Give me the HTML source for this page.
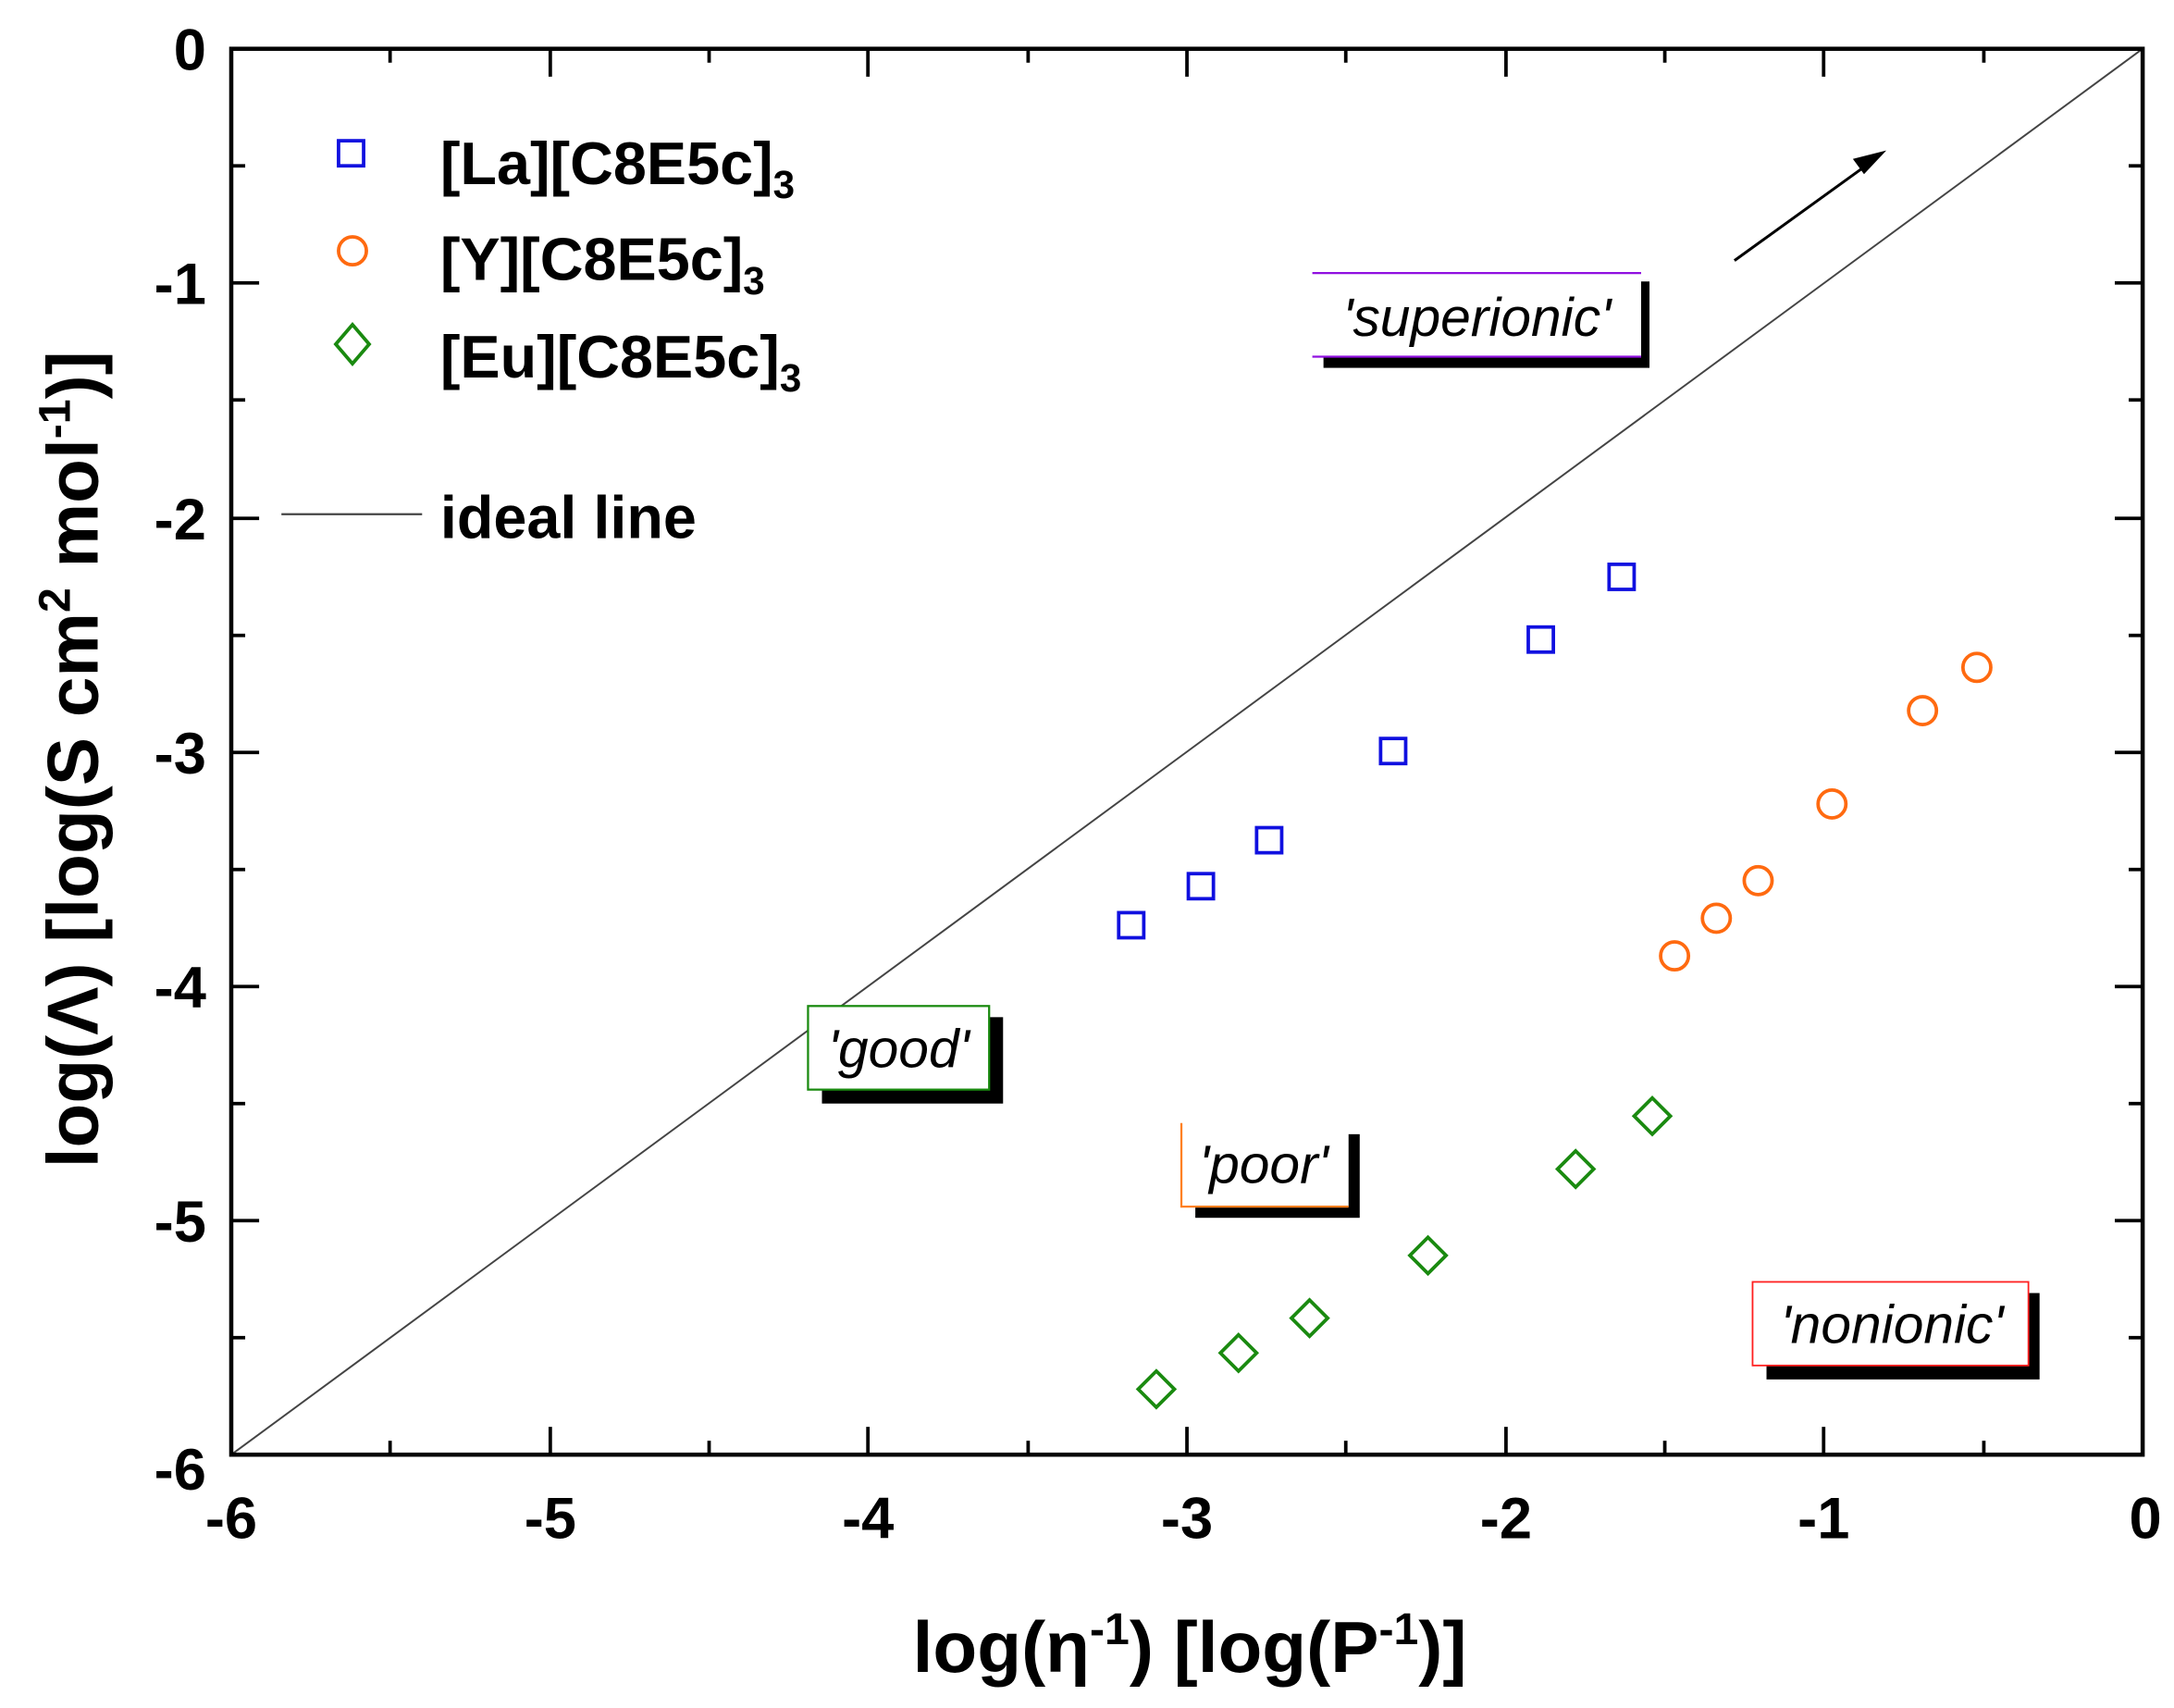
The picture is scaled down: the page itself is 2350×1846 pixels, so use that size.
<!DOCTYPE html>
<html><head><meta charset="utf-8"><style>
html,body{margin:0;padding:0;background:#fff}
svg{display:block}
text{font-family:"Liberation Sans",Arial,sans-serif}
</style></head><body>
<svg width="2350" height="1846" viewBox="0 0 1560.5 1225.8" xmlns="http://www.w3.org/2000/svg">
<rect width="1560.5" height="1225.8" fill="#fff"/>
<line x1="166" y1="1044" x2="1538" y2="35" stroke="#444" stroke-width="1.3"/>
<line x1="1245" y1="187" x2="1342" y2="117" stroke="#000" stroke-width="2"/>
<polygon points="1354,108 1330,114 1338,125" fill="#000"/>
<rect x="166" y="35" width="1372" height="1009" fill="none" stroke="#000" stroke-width="3"/>
<g stroke="#000" stroke-width="2.5">
<path d="M166,1044v-20M395,1044v-20M623,1044v-20M852,1044v-20M1081,1044v-20M1309,1044v-20M1538,1044v-20
M280,1044v-10M509,1044v-10M738,1044v-10M966,1044v-10M1195,1044v-10M1424,1044v-10
M166,35v20M395,35v20M623,35v20M852,35v20M1081,35v20M1309,35v20M1538,35v20
M280,35v10M509,35v10M738,35v10M966,35v10M1195,35v10M1424,35v10
M166,35h20M166,203h20M166,372h20M166,540h20M166,708h20M166,876h20M166,1044h20
M166,119h10M166,287h10M166,456h10M166,624h10M166,792h10M166,960h10
M1538,35h-20M1538,203h-20M1538,372h-20M1538,540h-20M1538,708h-20M1538,876h-20M1538,1044h-20
M1538,119h-10M1538,287h-10M1538,456h-10M1538,624h-10M1538,792h-10M1538,960h-10" fill="none"/>
</g>
<g font-size="42" font-weight="bold" text-anchor="end">
<text x="148" y="50">0</text><text x="148" y="218">-1</text><text x="148" y="387">-2</text>
<text x="148" y="555">-3</text><text x="148" y="723">-4</text><text x="148" y="891">-5</text><text x="148" y="1069">-6</text>
</g>
<g font-size="42" font-weight="bold" text-anchor="middle">
<text x="166" y="1104">-6</text><text x="395" y="1104">-5</text><text x="623" y="1104">-4</text>
<text x="852" y="1104">-3</text><text x="1081" y="1104">-2</text><text x="1309" y="1104">-1</text><text x="1540" y="1104">0</text>
</g>
<text x="854" y="1200" font-size="52" font-weight="bold" text-anchor="middle">log(η<tspan font-size="32" dy="-20">-1</tspan><tspan dy="20">) [log(P</tspan><tspan font-size="32" dy="-20">-1</tspan><tspan dy="20">)]</tspan></text>
<text transform="translate(70,545) rotate(-90)" font-size="52" font-weight="bold" text-anchor="middle">log(Λ) [log(S cm<tspan font-size="32" dy="-20">2</tspan><tspan dy="20"> mol</tspan><tspan font-size="32" dy="-20">-1</tspan><tspan dy="20">)]</tspan></text>
<rect x="243" y="101" width="18" height="18" fill="none" stroke="#1010e0" stroke-width="2.5"/>
<circle cx="253" cy="180" r="10" fill="none" stroke="#ff6a10" stroke-width="2.5"/>
<polygon points="253,233 265,247 253,261 241,247" fill="none" stroke="#1a8a10" stroke-width="2.5"/>
<line x1="202" y1="369" x2="303" y2="369" stroke="#444" stroke-width="1.5"/>
<g font-size="43" font-weight="bold">
<text x="316" y="132">[La][C8E5c]<tspan font-size="28" dy="10">3</tspan></text>
<text x="316" y="201">[Y][C8E5c]<tspan font-size="28" dy="10">3</tspan></text>
<text x="316" y="271">[Eu][C8E5c]<tspan font-size="28" dy="10">3</tspan></text>
<text x="316" y="386">ideal line</text>
</g>
<g fill="none" stroke="#1010e0" stroke-width="2.5">
<rect x="803" y="655" width="18" height="18"/><rect x="853" y="627" width="18" height="18"/>
<rect x="902" y="594" width="18" height="18"/><rect x="991" y="530" width="18" height="18"/>
<rect x="1097" y="450" width="18" height="18"/><rect x="1155" y="405" width="18" height="18"/>
</g>
<g fill="none" stroke="#ff6a10" stroke-width="2.5">
<circle cx="1202" cy="686" r="10"/><circle cx="1232" cy="659" r="10"/><circle cx="1262" cy="632" r="10"/>
<circle cx="1315" cy="577" r="10"/><circle cx="1380" cy="510" r="10"/><circle cx="1419" cy="479" r="10"/>
</g>
<g fill="none" stroke="#1a8a10" stroke-width="2.5">
<polygon points="830,984 843,997 830,1010 817,997"/>
<polygon points="889,958 902,971 889,984 876,971"/>
<polygon points="940,933 953,946 940,959 927,946"/>
<polygon points="1025,888 1038,901 1025,914 1012,901"/>
<polygon points="1131,826 1144,839 1131,852 1118,839"/>
<polygon points="1186,788 1199,801 1186,814 1173,801"/>
</g>
<rect x="950" y="202" width="234" height="62" fill="#000"/>
<rect x="942" y="196" width="236" height="60" fill="#fff"/>
<line x1="942" y1="196" x2="1178" y2="196" stroke="#9010e0" stroke-width="1.5"/>
<line x1="942" y1="256" x2="1178" y2="256" stroke="#9010e0" stroke-width="1.5"/>
<text x="1060" y="241" font-size="39" font-style="italic" text-anchor="middle">'superionic'</text>
<rect x="590" y="730" width="130" height="62" fill="#000"/>
<rect x="580" y="722" width="130" height="60" fill="#fff" stroke="#1a8a10" stroke-width="1.5"/>
<text x="645" y="766" font-size="39" font-style="italic" text-anchor="middle">'good'</text>
<rect x="858" y="814" width="118" height="60" fill="#000"/>
<rect x="848" y="806" width="120" height="60" fill="#fff"/>
<path d="M848,806V866H968" fill="none" stroke="#ff8020" stroke-width="1.5"/>
<text x="907" y="849" font-size="39" font-style="italic" text-anchor="middle">'poor'</text>
<rect x="1268" y="928" width="196" height="62" fill="#000"/>
<rect x="1258" y="920" width="198" height="60" fill="#fff" stroke="#ff2020" stroke-width="1.2"/>
<text x="1358" y="964" font-size="39" font-style="italic" text-anchor="middle">'nonionic'</text>
</svg>
</body></html>
